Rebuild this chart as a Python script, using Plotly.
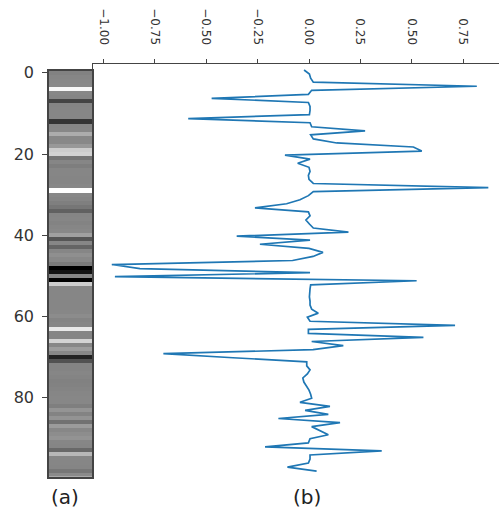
import plotly.graph_objects as go

# Signal values (one per depth index)
values = [
    -0.024, 0.002, 0.008, 0.021, 0.817, 0.013, -0.003, -0.474, -0.003, 0.005,
    0.005, 0.002, -0.588, 0.005, 0.013, 0.273, 0.008, 0.021, 0.135, 0.508,
    0.549, -0.117, 0.005, -0.055, 0.0, 0.005, -0.003, 0.0, 0.021, 0.873,
    0.021, -0.003, -0.044, -0.109, -0.263, -0.003, 0.005, -0.015, 0.002, 0.021,
    0.192, -0.352, 0.005, -0.239, 0.0, 0.068, 0.02, -0.08, -0.96, -0.823,
    0.005, -0.945, 0.524, 0.008, 0.005, 0.002, 0.002, 0.005, 0.005, 0.013,
    0.045, -0.008, 0.005, 0.711, -0.003, -0.003, 0.557, 0.013, 0.167, 0.02,
    -0.709, -0.37, -0.011, -0.011, 0.005, -0.008, -0.03, -0.025, -0.012, 0.0,
    0.008, 0.013, -0.044, 0.102, -0.019, 0.094, -0.149, 0.151, 0.013, 0.05,
    0.094, 0.005, -0.003, -0.214, 0.354, 0.005, 0.005, -0.003, -0.105, 0.037,
]
depth = list(range(len(values)))

y_tick_vals = [0, 20, 40, 60, 80]
x_tick_vals = [-1.0, -0.75, -0.5, -0.25, 0.0, 0.25, 0.5, 0.75]
x_tick_text = ["\u22121.00", "\u22120.75", "\u22120.50", "\u22120.25",
               "0.00", "0.25", "0.50", "0.75"]
panel_labels = ["(a)", "(b)"]

W, H = 499, 515
def px(x):
    return x / W
def py(y):
    return 1 - y / H

fig = go.Figure()
fig.add_trace(go.Heatmap(
    z=[[v] for v in values], x=[0], y=depth,
    colorscale=[[0, "black"], [1, "white"]], showscale=False,
    xaxis="x", yaxis="y", hoverinfo="skip"))
fig.add_trace(go.Scatter(
    x=values, y=depth, mode="lines",
    line=dict(color="#1f77b4", width=1.7),
    xaxis="x2", yaxis="y2", showlegend=False))

font = "DejaVu Sans"
fig.update_layout(
    width=W, height=H, margin=dict(l=0, r=0, t=0, b=0),
    paper_bgcolor="white", plot_bgcolor="white", showlegend=False,
    font=dict(family=font, color="#333"),
    xaxis=dict(domain=[px(49), px(92)], range=[-0.5, 0.5], anchor="y",
               showticklabels=False, ticks="", showgrid=False, zeroline=False,
               showline=True, mirror=True, linecolor="#444", linewidth=1.5),
    yaxis=dict(domain=[py(476.6), py(64.6)], range=[99.5, -0.5], anchor="x",
               tickvals=y_tick_vals, ticks="outside", ticklen=5, tickwidth=1,
               ticklabelstandoff=5,
               tickcolor="#444", tickfont=dict(size=16, family=font, color="#333"),
               showgrid=False, zeroline=False,
               showline=True, mirror=True, linecolor="#444", linewidth=1.5),
    xaxis2=dict(domain=[px(93), 1.0], range=[-1.0516, 0.925], anchor="y2",
                side="top", tickvals=x_tick_vals, ticktext=x_tick_text,
                tickangle=90, ticks="outside", ticklen=4, tickwidth=1,
                ticklabelstandoff=10,
                tickcolor="#444", tickfont=dict(size=12, family=font, color="#333"),
                showgrid=False, zeroline=False,
                showline=True, linecolor="#444", linewidth=1),
    yaxis2=dict(domain=[py(477), py(58)], range=[100.56, -1.436], anchor="x2",
                showticklabels=False, ticks="", showgrid=False, zeroline=False,
                showline=True, linecolor="#444", linewidth=1),
    annotations=[
        dict(text=panel_labels[0], x=px(65), y=py(497), xref="paper", yref="paper",
             showarrow=False, xanchor="center", yanchor="middle",
             font=dict(size=20, family=font, color="#222")),
        dict(text=panel_labels[1], x=px(307), y=py(497), xref="paper", yref="paper",
             showarrow=False, xanchor="center", yanchor="middle",
             font=dict(size=20, family=font, color="#222")),
    ],
)

fig.write_html("out.html")
